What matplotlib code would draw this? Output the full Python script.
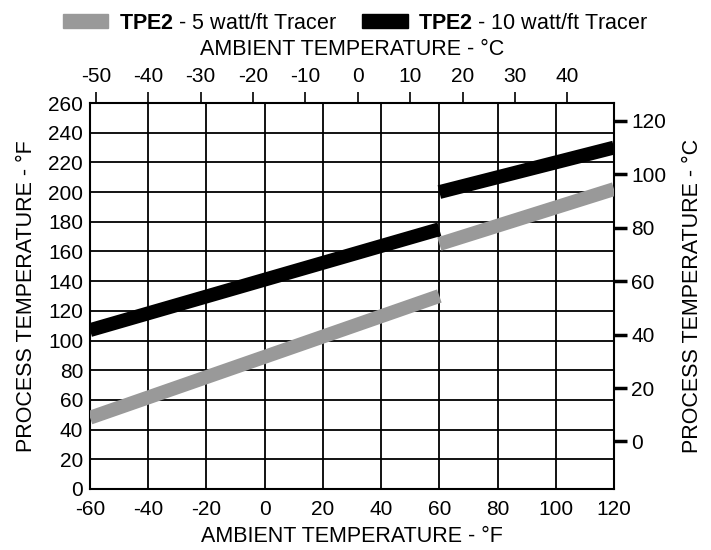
import numpy as np
import matplotlib
matplotlib.use("Agg")
import matplotlib.pyplot as plt
from matplotlib.patches import Patch

plt.rcParams['font.family'] = ['Liberation Sans', 'DejaVu Sans']
plt.rcParams['mathtext.fontset'] = 'custom'
plt.rcParams['mathtext.rm'] = 'Liberation Sans'
plt.rcParams['mathtext.bf'] = 'Liberation Sans:bold'
plt.rcParams['axes.unicode_minus'] = False

# ambient temperature (°F) at segment ends, two ranges with a jump at 60°F
ambient_low = [-60, 60]
ambient_high = [60, 120]
# process temperature (°F)
tracer5_low = [48, 130]
tracer5_high = [165, 202]
tracer10_low = [107, 175]
tracer10_high = [200, 230]

x_ticks_f = np.arange(-60, 121, 20)
y_ticks_f = np.arange(0, 261, 20)
x_ticks_c = np.arange(-50, 41, 10)
y_ticks_c = np.arange(0, 121, 20)

gray = '#999999'
black = '#000000'


def f2c(f):
    return (np.asarray(f) - 32) * 5 / 9


def c2f(c):
    return np.asarray(c) * 9 / 5 + 32


fig = plt.figure(figsize=(7.11, 5.5), dpi=100)
ax = fig.add_axes([0.1266, 0.111, 0.737, 0.7017])

lw = 10
ax.plot(ambient_low, tracer5_low, color=gray, lw=lw, solid_capstyle='butt', zorder=3)
ax.plot(ambient_high, tracer5_high, color=gray, lw=lw, solid_capstyle='butt', zorder=3)
ax.plot(ambient_low, tracer10_low, color=black, lw=lw, solid_capstyle='butt', zorder=3)
ax.plot(ambient_high, tracer10_high, color=black, lw=lw, solid_capstyle='butt', zorder=3)

ax.set_xlim(-60, 120)
ax.set_ylim(0, 260)
ax.set_xticks(x_ticks_f)
ax.set_yticks(y_ticks_f)
ax.grid(True, color='black', lw=1.3)
ax.set_axisbelow(True)
for s in ax.spines.values():
    s.set_linewidth(1.5)
ax.tick_params(length=0, labelsize=15)
ax.tick_params(axis='x', pad=8)
ax.tick_params(axis='y', pad=5)
ax.set_xlabel('AMBIENT TEMPERATURE - °F', fontsize=15.5, labelpad=5)
ax.set_ylabel('PROCESS TEMPERATURE - °F', fontsize=15.5, labelpad=8)

top = ax.secondary_xaxis('top', functions=(f2c, c2f))
top.set_xticks(x_ticks_c)
top.tick_params(length=8, width=1.2, labelsize=15, pad=4)
top.spines['top'].set_visible(False)
top.set_xlabel('AMBIENT TEMPERATURE - °C', fontsize=15.5, labelpad=9)

right = ax.secondary_yaxis('right', functions=(f2c, c2f))
right.set_yticks(y_ticks_c)
right.tick_params(length=9.5, width=2.5, labelsize=15, pad=3)
right.spines['right'].set_visible(False)
right.set_ylabel('PROCESS TEMPERATURE - °C', fontsize=15.5, labelpad=11)

handles = [Patch(color=gray), Patch(color=black)]
labels = [r'$\bf{TPE2}$ - 5 watt/ft Tracer', r'$\bf{TPE2}$ - 10 watt/ft Tracer']
fig.legend(handles, labels, loc='upper center', bbox_to_anchor=(0.5, 1.012), ncol=2,
           frameon=False, fontsize=15.5, handlelength=2.1, handleheight=0.65,
           columnspacing=1.2, handletextpad=0.5)

fig.savefig('out.png', dpi=100)
